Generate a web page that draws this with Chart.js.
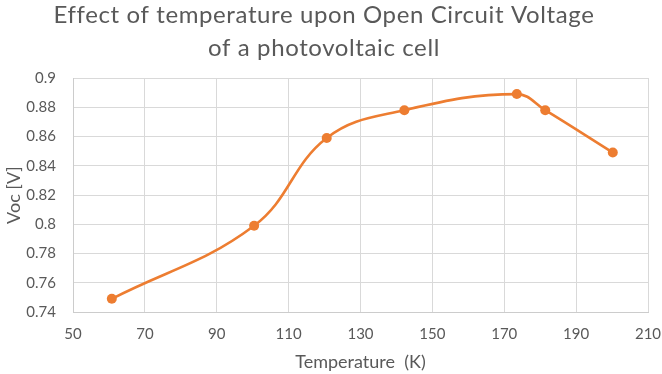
<!DOCTYPE html>
<html>
<head>
<meta charset="utf-8">
<script src="https://cdn.jsdelivr.net/npm/chart.js@4"></script>
<style>
  html, body { margin: 0; padding: 0; background: #fff; }
  #wrap { width: 662px; height: 374px; }
</style>
</head>
<body>
<div id="wrap"><canvas id="c" width="662" height="374"></canvas></div>
<script>
const temperature = [60.8, 100.4, 120.6, 142.2, 173.5, 181.4, 200.2];
const voc = [0.749, 0.799, 0.859, 0.878, 0.889, 0.878, 0.849];
const xTickValues = [50, 70, 90, 110, 130, 150, 170, 190, 210];
const yTickValues = [0.74, 0.76, 0.78, 0.8, 0.82, 0.84, 0.86, 0.88, 0.9];
const yTickLabels = ['0.74', '0.76', '0.78', '0.8', '0.82', '0.84', '0.86', '0.88', '0.9'];
const titleLines = ['Effect of temperature upon Open Circuit Voltage', 'of a photovoltaic cell'];
const xTitle = 'Temperature  (K)';
const yTitle = 'Voc [V]';

const FONT = 'Lato, "Open Sans", sans-serif';
const GREY = '#595959';
const GRID = '#d9d9d9';

// letter spacing so text widths follow the reference (Calibri-like, wider glyphs)
const mctx = document.createElement('canvas').getContext('2d');
function spacingFor(text, size, target) {
  mctx.font = size + 'px ' + FONT;
  const w = mctx.measureText(text).width;
  return Math.max(0, (target - w) / text.length);
}
const TITLE_SIZE = 24;
const titleSpacing = spacingFor(titleLines[0], TITLE_SIZE, 540);
const axisSpacing = {
  x: spacingFor(xTitle, 18, 125),
  y: spacingFor(yTitle, 18, 54)
};

const origDrawTitle = Chart.Scale.prototype.drawTitle;
Chart.Scale.prototype.drawTitle = function () {
  const ctx = this.ctx;
  const prev = ctx.letterSpacing;
  ctx.letterSpacing = (axisSpacing[this.id] || 0) + 'px';
  origDrawTitle.call(this);
  ctx.letterSpacing = prev || '0px';
};

const chart = new Chart(document.getElementById('c'), {
  type: 'line',
  data: {
    datasets: [{
      data: temperature.map((t, i) => ({ x: t, y: voc[i] })),
      borderColor: '#ED7D31',
      backgroundColor: '#ED7D31',
      borderWidth: 2.6,
      pointRadius: 5,
      pointHoverRadius: 5,
      pointBorderWidth: 0,
      tension: 0.4,
      fill: false
    }]
  },
  options: {
    responsive: false,
    animation: false,
    devicePixelRatio: 1,
    layout: { padding: { left: 0, right: 14, top: 0, bottom: 0 } },
    plugins: {
      legend: { display: false },
      tooltip: { enabled: false },
      title: {
        display: true,
        text: titleLines,
        color: GREY,
        font: { family: FONT, size: TITLE_SIZE, weight: 'normal', lineHeight: 33 / TITLE_SIZE },
        padding: { top: -1, bottom: 13 }
      }
    },
    scales: {
      x: {
        type: 'linear',
        min: 50, max: 210,
        afterBuildTicks: s => { s.ticks = xTickValues.map(v => ({ value: v })); },
        afterFit: s => { s.height = 62; s.paddingLeft = 0; s.paddingRight = 0; },
        grid: { color: GRID, lineWidth: 1, drawTicks: false },
        border: { color: '#cccccc', width: 1 },
        ticks: { color: GREY, font: { family: FONT, size: 15 }, padding: 13, maxRotation: 0, autoSkip: false },
        title: { display: true, text: xTitle, color: GREY, font: { family: FONT, size: 18 }, padding: { top: 0, bottom: 1 } }
      },
      y: {
        type: 'linear',
        min: 0.74, max: 0.9,
        afterBuildTicks: s => { s.ticks = yTickValues.map(v => ({ value: v })); },
        afterFit: s => { s.width = 73; s.paddingTop = 0; s.paddingBottom = 0; },
        grid: { color: GRID, lineWidth: 1, drawTicks: false },
        border: { color: '#cccccc', width: 1 },
        ticks: {
          color: GREY, font: { family: FONT, size: 15 }, padding: 17, autoSkip: false,
          callback: (v, i) => yTickLabels[i]
        },
        title: { display: true, text: yTitle, color: GREY, font: { family: FONT, size: 18 }, padding: { top: 3, bottom: 0 } }
      }
    }
  }
});

// apply letter spacing to the chart title as well, then redraw
const tb = chart.titleBlock;
if (tb) {
  const origDraw = tb.draw.bind(tb);
  tb.draw = function () {
    const ctx = chart.ctx;
    const prev = ctx.letterSpacing;
    ctx.letterSpacing = titleSpacing + 'px';
    origDraw();
    ctx.letterSpacing = prev || '0px';
  };
  chart.draw();
}
</script>
</body>
</html>
